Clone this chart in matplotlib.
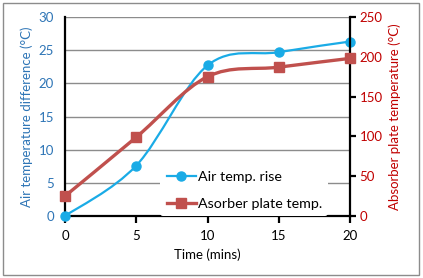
import matplotlib
matplotlib.use('Agg')
import matplotlib.pyplot as plt
import numpy as np
from matplotlib.path import Path
from matplotlib.patches import PathPatch, Rectangle
from matplotlib.lines import Line2D

# data
time = [0, 5, 10, 15, 20]
air_rise = [0.0, 7.6, 22.7, 24.7, 26.3]
plate_temp = [25, 99, 175, 187, 198]

blue = '#1AABE6'
red = '#C0504D'
lab_blue = '#2E75B6'
lab_red = '#C00000'

plt.rcParams['font.family'] = ['Lato', 'DejaVu Sans']
fs = 9.5


def smooth_path(x, y):
    # Excel-like smoothed line: cubic bezier through the points
    x = np.asarray(x, float)
    y = np.asarray(y, float)
    n = len(x)
    verts = [(x[0], y[0])]
    codes = [Path.MOVETO]
    for i in range(n - 1):
        i0 = max(i - 1, 0)
        i3 = min(i + 2, n - 1)
        c1 = (x[i] + (x[i + 1] - x[i0]) / 6, y[i] + (y[i + 1] - y[i0]) / 6)
        c2 = (x[i + 1] - (x[i3] - x[i]) / 6, y[i + 1] - (y[i3] - y[i]) / 6)
        verts += [c1, c2, (x[i + 1], y[i + 1])]
        codes += [Path.CURVE4] * 3
    return Path(verts, codes)


fig = plt.figure(figsize=(4.23, 2.78), dpi=100)
ax = fig.add_axes([65 / 423, 1 - 216 / 278, 285 / 423, 199 / 278])
ax2 = ax.twinx()

# gridlines
ax.set_ylim(0, 30)
ax.set_xlim(0, 20)
ax.set_yticks(range(0, 31, 5))
ax.set_xticks(range(0, 21, 5))
ax.grid(axis='y', color='#8C8C8C', linewidth=1)
ax.set_axisbelow(True)

ax.add_patch(PathPatch(smooth_path(time, air_rise), facecolor='none',
                       edgecolor=blue, linewidth=1.6, zorder=3, clip_on=False))
ax.plot(time, air_rise, linestyle='none', marker='o', markersize=6.5,
        color=blue, zorder=4, clip_on=False)

ax2.set_ylim(0, 250)
ax2.set_yticks(range(0, 251, 50))
ax2.add_patch(PathPatch(smooth_path(time, plate_temp), facecolor='none',
                        edgecolor=red, linewidth=2.4, zorder=3, clip_on=False))
ax2.plot(time, plate_temp, linestyle='none', marker='s', markersize=6.5,
         color=red, zorder=4, clip_on=False)

for a in (ax, ax2):
    a.spines['top'].set_visible(False)
    for s in ('left', 'right', 'bottom'):
        a.spines[s].set_color('black')
        a.spines[s].set_linewidth(1.6)
ax2.spines['left'].set_visible(False)
ax2.spines['bottom'].set_visible(False)
ax.spines['right'].set_visible(False)

ax.tick_params(axis='y', length=0, labelcolor=lab_blue, labelsize=fs, pad=8)
ax.tick_params(axis='x', length=5, width=1.6, direction='out',
               labelsize=fs, pad=5)
ax2.tick_params(axis='y', length=4, width=1.6, direction='out',
                labelcolor=lab_red, labelsize=fs, pad=3)

ax.set_xlabel('Time (mins)', fontsize=fs, labelpad=5)
ax.set_ylabel('Air temperature difference (°C)', fontsize=fs,
              color=lab_blue, labelpad=4)
ax2.set_ylabel('Absorber plate temperature (°C)', fontsize=fs,
               color=lab_red, labelpad=4)

handles = [Line2D([], [], color=blue, linewidth=1.6, marker='o', markersize=6.5),
           Line2D([], [], color=red, linewidth=2.4, marker='s', markersize=6.5)]
leg = ax2.legend(handles, ['Air temp. rise', 'Asorber plate temp.'],
                 loc='lower left', bbox_to_anchor=(0.335, 0.0),
                 frameon=True, fontsize=10.3, handlelength=2.0,
                 handletextpad=0.15, labelspacing=1.05, borderpad=0.45,
                 borderaxespad=0.0)
leg.get_frame().set_facecolor('white')
leg.get_frame().set_edgecolor('none')
leg.get_frame().set_alpha(1)
leg.set_zorder(2)

# outer chart border
fig.patches.append(Rectangle((3 / 423, 3 / 278), 416 / 423, 272 / 278,
                             transform=fig.transFigure, fill=False,
                             edgecolor='#8C8C8C', linewidth=1))

fig.savefig('out.png', dpi=100)
